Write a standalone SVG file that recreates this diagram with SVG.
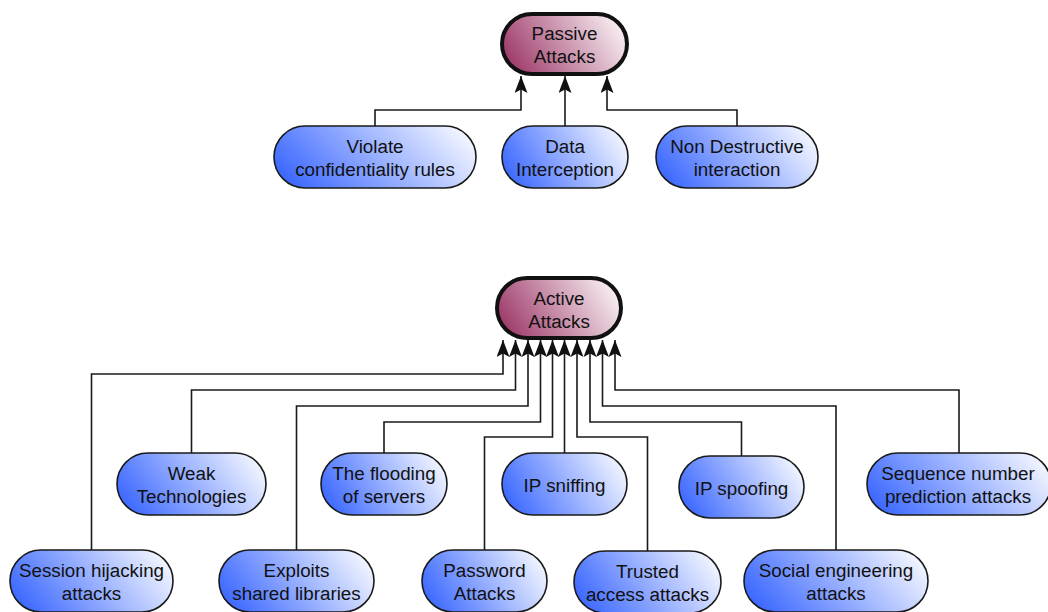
<svg xmlns="http://www.w3.org/2000/svg" width="1048" height="612" viewBox="0 0 1048 612">
<style>
.blue{fill:url(#gBlue);stroke:#1a1a1a;stroke-width:1.6}
.root{fill:url(#gRoot);stroke:#111;stroke-width:4}
.lbl{font-family:"Liberation Sans",Arial,sans-serif;font-size:18.8px;fill:#111;text-anchor:middle}
.conn path{fill:none;stroke:#1a1a1a;stroke-width:1.6;marker-end:url(#arr)}
</style>
<defs>
<linearGradient id="gBlue" x1="0" y1="0.65" x2="1" y2="0.35">
<stop offset="0" stop-color="#3d69ff"/>
<stop offset="1" stop-color="#f0f4ff"/>
</linearGradient>
<linearGradient id="gRoot" x1="0" y1="0.65" x2="1" y2="0.35">
<stop offset="0" stop-color="#9e3a69"/>
<stop offset="1" stop-color="#f8eff3"/>
</linearGradient>
<marker id="arr" viewBox="0 0 17 13" refX="17" refY="6.5" markerWidth="17" markerHeight="13" markerUnits="userSpaceOnUse" orient="auto">
<path d="M0,0 L17,6.5 L0,13 L3.5,6.5 Z" fill="#111"/>
</marker>
</defs>

<g id="connectors" class="conn">
<path d="M375,126 V110 H521 V76"/>
<path d="M565,126 V76"/>
<path d="M737,126 V110 H607 V76"/>
<path d="M91.5,550 V374 H503 V340"/>
<path d="M191.5,453 V390 H515.5 V340"/>
<path d="M296.5,550 V406 H528 V340"/>
<path d="M384,453 V422 H540.5 V340"/>
<path d="M484.5,550 V437 H552.5 V340"/>
<path d="M564.5,453 V340"/>
<path d="M647.5,551 V437 H577 V340"/>
<path d="M741.5,456 V422 H590 V340"/>
<path d="M836,550 V406 H602.5 V340"/>
<path d="M959,453 V390 H615 V340"/>
</g>

<g id="passive">
<rect class="root" x="502" y="14" width="125" height="60" rx="30"/>
<text class="lbl" x="564.5" y="40">Passive</text>
<text class="lbl" x="564.5" y="63">Attacks</text>
</g>
<g id="violate">
<rect class="blue" x="274" y="126" width="202" height="62" rx="31"/>
<text class="lbl" x="375" y="153">Violate</text>
<text class="lbl" x="375" y="176">confidentiality rules</text>
</g>
<g id="data">
<rect class="blue" x="502" y="126" width="126" height="62" rx="31"/>
<text class="lbl" x="565" y="153">Data</text>
<text class="lbl" x="565" y="176">Interception</text>
</g>
<g id="nondestructive">
<rect class="blue" x="656" y="126" width="162" height="62" rx="31"/>
<text class="lbl" x="737" y="153">Non Destructive</text>
<text class="lbl" x="737" y="176">interaction</text>
</g>

<g id="active">
<rect class="root" x="497" y="278" width="124" height="60" rx="30"/>
<text class="lbl" x="559" y="304.5">Active</text>
<text class="lbl" x="559" y="327.5">Attacks</text>
</g>
<g id="weak">
<rect class="blue" x="117" y="453" width="149" height="62" rx="31"/>
<text class="lbl" x="191.5" y="480">Weak</text>
<text class="lbl" x="191.5" y="503">Technologies</text>
</g>
<g id="flooding">
<rect class="blue" x="321" y="453" width="126" height="62" rx="31"/>
<text class="lbl" x="384" y="480">The flooding</text>
<text class="lbl" x="384" y="503">of servers</text>
</g>
<g id="ipsniffing">
<rect class="blue" x="502" y="453" width="125" height="62" rx="31"/>
<text class="lbl" x="564.5" y="492">IP sniffing</text>
</g>
<g id="ipspoofing">
<rect class="blue" x="679" y="456" width="125" height="62" rx="31"/>
<text class="lbl" x="741.5" y="495">IP spoofing</text>
</g>
<g id="sequence">
<rect class="blue" x="867" y="453" width="184" height="62" rx="31"/>
<text class="lbl" x="958" y="480">Sequence number</text>
<text class="lbl" x="958" y="503">prediction attacks</text>
</g>
<g id="session">
<rect class="blue" x="10" y="550" width="163" height="62" rx="31"/>
<text class="lbl" x="91.5" y="577">Session hijacking</text>
<text class="lbl" x="91.5" y="600">attacks</text>
</g>
<g id="exploits">
<rect class="blue" x="219" y="550" width="155" height="62" rx="31"/>
<text class="lbl" x="296.5" y="577">Exploits</text>
<text class="lbl" x="296.5" y="600">shared libraries</text>
</g>
<g id="password">
<rect class="blue" x="422" y="550" width="125" height="62" rx="31"/>
<text class="lbl" x="484.5" y="577">Password</text>
<text class="lbl" x="484.5" y="600">Attacks</text>
</g>
<g id="trusted">
<rect class="blue" x="574" y="551" width="147" height="62" rx="31"/>
<text class="lbl" x="647.5" y="578">Trusted</text>
<text class="lbl" x="647.5" y="601">access attacks</text>
</g>
<g id="social">
<rect class="blue" x="744" y="550" width="184" height="62" rx="31"/>
<text class="lbl" x="836" y="577">Social engineering</text>
<text class="lbl" x="836" y="600">attacks</text>
</g>
</svg>
